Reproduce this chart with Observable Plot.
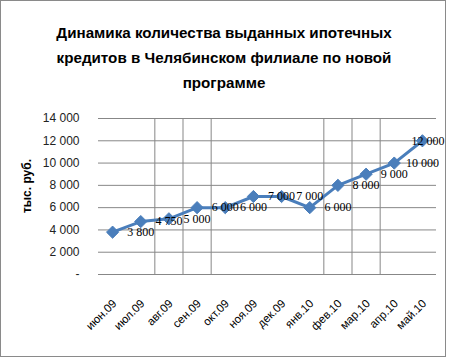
<!DOCTYPE html>
<html>
<head>
<meta charset="utf-8">
<script src="https://cdn.jsdelivr.net/npm/d3@7"></script>
<script src="https://cdn.jsdelivr.net/npm/@observablehq/plot@0.6"></script>
<style>
  html, body { margin: 0; padding: 0; background: #fff; }
  #wrap { position: relative; width: 450px; height: 358px; overflow: hidden; background: #fff; }
  #frame { position: absolute; left: 0; top: 0; width: 446px; height: 357px; box-sizing: border-box; border: 1px solid #8a8a8a; pointer-events: none; }
  #title { position: absolute; left: 0; top: 20px; width: 448px; text-align: center; font-family: "Liberation Sans", Arial, sans-serif; font-weight: bold; font-size: 15.2px; line-height: 25px; color: #000; }
  #ylabel { position: absolute; left: 27px; top: 186px; transform: translate(-50%, -50%) rotate(-90deg); font-family: "Liberation Sans", Arial, sans-serif; font-weight: bold; font-size: 12px; white-space: nowrap; color: #000; }
  #plot { position: absolute; left: 0; top: 100px; }
</style>
</head>
<body>
<div id="wrap">
  <div id="title"></div>
  <div id="plot"></div>
  <div id="ylabel"></div>
  <div id="frame"></div>
</div>
<script>
const titleLines = ["Динамика количества выданных ипотечных", "кредитов в Челябинском филиале по новой", "программе"];
const yAxisTitle = "тыс. руб.";
const categories = ["июн.09","июл.09","авг.09","сен.09","окт.09","ноя.09","дек.09","янв.10","фев.10","мар.10","апр.10","май.10"];
const values = [3800, 4750, 5000, 6000, 6000, 7000, 7000, 6000, 8000, 9000, 10000, 12000];
const yTicks = [0, 2000, 4000, 6000, 8000, 10000, 12000, 14000];
const verticalGridAfter = ["июл.09","авг.09","сен.09","янв.10","фев.10","мар.10"];

document.getElementById("title").innerHTML = titleLines.join("<br>");
document.getElementById("ylabel").textContent = yAxisTitle;

const n = categories.length;
const data = categories.map((c, i) => ({cat: c, i, v: values[i]}));
// Excel placed each data label one category to the right (clamped at the right edge)
const labels = data.map(d => ({...d, lx: Math.min(d.i + 1, n - 1 + (d.i === n - 1 ? 0.2 : 0))}));
const vgrid = verticalGridAfter.map(c => categories.indexOf(c) + 0.5);

const fmt = v => v === 0 ? "-" : d3.format(",")(v).replace(/,/g, " ");

const chart = Plot.plot({
  width: 450,
  height: 258,
  marginTop: 18,
  marginBottom: 84,
  marginLeft: 98,
  marginRight: 14,
  style: {fontFamily: "'Liberation Sans', Arial, sans-serif", background: "transparent"},
  x: {type: "linear", domain: [-0.5, n - 0.5]},
  y: {domain: [0, 14000]},
  marks: [
    Plot.ruleY(yTicks, {stroke: "#878787", strokeWidth: 1}),
    Plot.ruleX(vgrid, {stroke: "#878787", strokeWidth: 1}),
    Plot.axisY({ticks: yTicks, tickFormat: fmt, tickSize: 0, tickPadding: 19, fontSize: 12, label: null, fill: "#222", fontFamily: "'Liberation Sans Narrow', 'Arial Narrow', 'Liberation Sans', sans-serif"}),
    Plot.axisX({ticks: d3.range(n), tickFormat: i => categories[i], tickRotate: -45, tickSize: 0, tickPadding: 27, dx: 2, fontSize: 11.5, label: null, fill: "#000"}),
    Plot.line(data, {x: "i", y: "v", stroke: "#4a7ebb", strokeWidth: 3}),
    Plot.dot(data, {x: "i", y: "v", symbol: "diamond2", r: 5.5, fill: "#4a7ebb", stroke: "#4a7ebb", strokeWidth: 1}),
    Plot.text(labels, {x: "lx", y: "v", text: d => fmt(d.v), fontSize: 12, fill: "#000", fontFamily: "'Liberation Serif', 'Times New Roman', serif", textAnchor: "middle", lineAnchor: "middle"})
  ]
});
document.getElementById("plot").appendChild(chart);
</script>
</body>
</html>
